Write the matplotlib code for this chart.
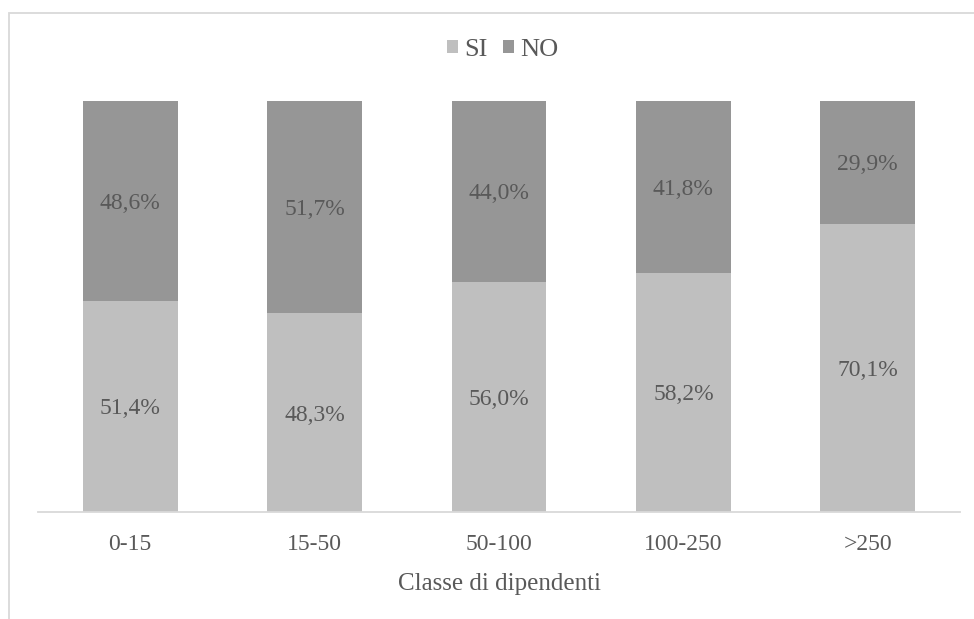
import matplotlib.pyplot as plt
from matplotlib.patches import Rectangle
import numpy as np

classi = ['0-15', '15-50', '50-100', '100-250', '>250']
si = [51.4, 48.3, 56.0, 58.2, 70.1]
no = [48.6, 51.7, 44.0, 41.8, 29.9]

col_si = '#bfbfbf'
col_no = '#969696'
col_txt = '#595959'

plt.rcParams['font.family'] = ['Liberation Serif', 'DejaVu Serif']

fig = plt.figure(figsize=(9.74, 6.19), dpi=100)
# cornice grigia del grafico
fig.add_artist(Rectangle((9 / 974, -0.1), 1.2, 1.1 - 13 / 619,
                         transform=fig.transFigure, fill=False,
                         edgecolor='#d9d9d9', linewidth=1.3))

ax = fig.add_axes([38 / 974, 1 - 512 / 619, 922 / 974, 411 / 619])
x = np.arange(len(classi))
w = 0.515
b1 = ax.bar(x, np.array(si) / 100, w, color=col_si, label='SI')
b2 = ax.bar(x, np.array(no) / 100, w, bottom=np.array(si) / 100, color=col_no, label='NO')

def fmt(v):
    return ('%.1f%%' % v).replace('.', ',')

for i in range(len(classi)):
    ax.text(x[i], si[i] / 200, fmt(si[i]), ha='center', va='center_baseline',
            fontsize=17, color=col_txt)
    ax.text(x[i], si[i] / 100 + no[i] / 200, fmt(no[i]), ha='center', va='center_baseline',
            fontsize=17, color=col_txt)

ax.set_xlim(-0.5, len(classi) - 0.5)
ax.set_ylim(0, 1)
ax.set_yticks([])
ax.set_xticks(x)
ax.set_xticklabels(classi, fontsize=17, color=col_txt)
ax.tick_params(axis='x', length=0, pad=16)
for s in ['top', 'right', 'left']:
    ax.spines[s].set_visible(False)
ax.spines['bottom'].set_color('#d9d9d9')
ax.spines['bottom'].set_linewidth(1.3)
ax.set_xlabel('Classe di dipendenti', fontsize=18, color=col_txt, labelpad=13)

leg = fig.legend(handles=[b1, b2], loc='center', bbox_to_anchor=(503 / 974, 1 - 50 / 619),
                 ncol=2, frameon=False, fontsize=19, handlelength=0.4, handleheight=0.4,
                 handletextpad=0.25, columnspacing=0.6)
for t in leg.get_texts():
    t.set_color(col_txt)

fig.savefig('out.png', dpi=100)
